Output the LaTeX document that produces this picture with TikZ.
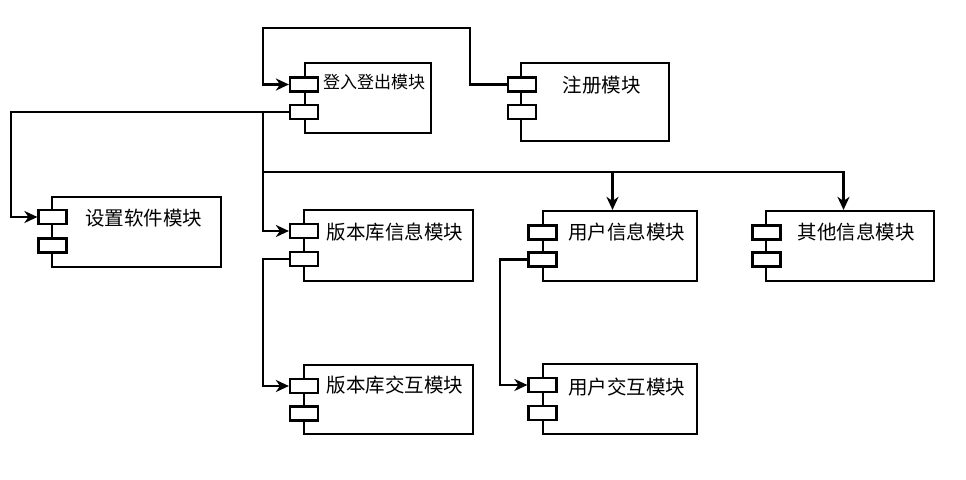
\documentclass[tikz,border=0pt]{standalone}
\usepackage{fontspec}
\setmainfont{Noto Sans CJK SC}
\usetikzlibrary{arrows.meta}
\begin{document}
\begin{tikzpicture}[x=1pt,y=-1pt,
  comp/.style={draw, line width=2.2pt, rectangle, inner sep=0pt},
  port/.style={draw, fill=white, line width=2.2pt, rectangle, inner sep=0pt, minimum width=28pt, minimum height=14pt},
  lbl/.style={inner sep=0pt, font=\fontsize{19.5}{20}\selectfont},
  lbls/.style={inner sep=0pt, font=\fontsize{17}{18}\selectfont},
  conn/.style={line width=2.2pt, line join=miter},
  arr/.style={conn, -{Stealth[length=13pt, width=12pt, inset=4pt]}}]
\useasboundingbox (0,0) rectangle (966,479);
\fill[white] (0,0) rectangle (966,479);
% boxes
\node[comp, minimum width=126pt, minimum height=70pt] (login) at (368,98) {};
\node[comp, minimum width=148pt, minimum height=78pt] (reg) at (595,102) {};
\node[comp, minimum width=169pt, minimum height=70pt] (set) at (136.5,232) {};
\node[comp, minimum width=169pt, minimum height=71pt] (ver) at (388.5,245.5) {};
\node[comp, minimum width=154pt, minimum height=70pt] (user) at (620,246) {};
\node[comp, minimum width=168pt, minimum height=70pt] (other) at (850,246) {};
\node[comp, minimum width=169pt, minimum height=69pt] (vint) at (388.5,399.5) {};
\node[comp, minimum width=154pt, minimum height=70pt] (uint) at (620,399) {};
% ports
\node[port] (login-p1) at (304,84.5) {};
\node[port] (login-p2) at (304,112) {};
\node[port] (reg-p1) at (522,84.5) {};
\node[port] (reg-p2) at (522,112) {};
\node[port] (set-p1) at (52.5,217) {};
\node[port] (set-p2) at (52.5,245.5) {};
\node[port] (ver-p1) at (304,231) {};
\node[port] (ver-p2) at (304,259) {};
\node[port] (user-p1) at (542.5,232.5) {};
\node[port] (user-p2) at (542.5,259.5) {};
\node[port] (other-p1) at (766.5,232.5) {};
\node[port] (other-p2) at (766.5,259.5) {};
\node[port] (vint-p1) at (304,386) {};
\node[port] (vint-p2) at (304,413.5) {};
\node[port] (uint-p1) at (542.5,385) {};
\node[port] (uint-p2) at (542.5,413) {};
% labels
\node[lbls] (login-t) at (374,82) {登入登出模块};
\node[lbl] (reg-t) at (601.5,85) {注册模块};
\node[lbl] (set-t) at (143.5,218) {设置软件模块};
\node[lbl] (ver-t) at (395,232) {版本库信息模块};
\node[lbl] (user-t) at (626.5,232) {用户信息模块};
\node[lbl] (other-t) at (856,232) {其他信息模块};
\node[lbl] (vint-t) at (395,385) {版本库交互模块};
\node[lbl] (uint-t) at (626.5,387) {用户交互模块};
% routing points
\coordinate (c1) at (470,28);
\coordinate (c2) at (263,28);
\coordinate (c3) at (11,112);
\coordinate (j) at (263,172);
\coordinate (k) at (263,320);
\coordinate (m) at (500,320);
% connectors
\draw[arr] (reg-p1.west) -| (c1) -| (c2) |- (login-p1.west);
\draw[arr] (login-p2.west) -| (c3) |- (set-p1.west);
\draw[arr] (login-p2.west) -| (j) |- (ver-p1.west);
\draw[arr] (j) -| ([xshift=-7.5pt]user.north);
\draw[arr] (j) -| ([xshift=-6.5pt]other.north);
\draw[arr] (ver-p2.west) -| (k) |- (vint-p1.west);
\draw[arr] (user-p2.west) -| (m) |- (uint-p1.west);
\end{tikzpicture}
\end{document}
